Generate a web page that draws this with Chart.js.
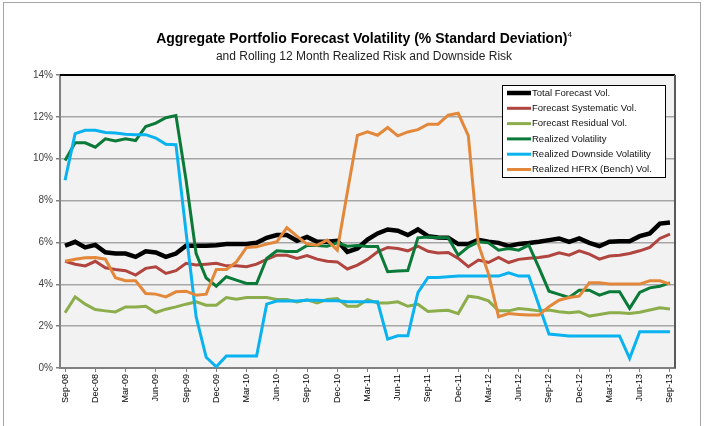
<!DOCTYPE html>
<html>
<head>
<meta charset="utf-8">
<script src="https://cdn.jsdelivr.net/npm/chart.js@4"></script>
<style>
  html, body { margin: 0; padding: 0; background: #fff; }
  #wrap { position: relative; width: 704px; height: 426px; overflow: hidden; }
  #frame { position: absolute; left: 3px; top: 2px; width: 696px; height: 440px; border: 1px solid #a6a6a6; }
  #chart { position: absolute; left: 0; top: 0; }
  .title { position: absolute; left: 0; width: 728px; text-align: center; font-family: "Liberation Sans", Arial, sans-serif; color: #000; white-space: nowrap; }
  #t1 { top: 30px; font-size: 14px; font-weight: bold; }
  #t1 sup { font-size: 8px; font-weight: normal; vertical-align: 6px; }
  #t2 { top: 49px; font-size: 12px; color: #222; }
</style>
</head>
<body>
<div id="wrap">
  <div id="frame"></div>
  <canvas id="chart" width="704" height="426"></canvas>
  <div class="title" id="t1">Aggregate Portfolio Forecast Volatility (% Standard Deviation)<sup>4</sup></div>
  <div class="title" id="t2">and Rolling 12 Month Realized Risk and Downside Risk</div>
</div>
<script>
const months = ["Sep-08","Oct-08","Nov-08","Dec-08","Jan-09","Feb-09","Mar-09","Apr-09","May-09","Jun-09","Jul-09","Aug-09",
  "Sep-09","Oct-09","Nov-09","Dec-09","Jan-10","Feb-10","Mar-10","Apr-10","May-10","Jun-10","Jul-10","Aug-10",
  "Sep-10","Oct-10","Nov-10","Dec-10","Jan-11","Feb-11","Mar-11","Apr-11","May-11","Jun-11","Jul-11","Aug-11",
  "Sep-11","Oct-11","Nov-11","Dec-11","Jan-12","Feb-12","Mar-12","Apr-12","May-12","Jun-12","Jul-12","Aug-12",
  "Sep-12","Oct-12","Nov-12","Dec-12","Jan-13","Feb-13","Mar-13","Apr-13","May-13","Jun-13","Jul-13","Aug-13","Sep-13"];

const totalForecast = [5.84,6.03,5.76,5.88,5.53,5.47,5.47,5.31,5.58,5.52,5.31,5.47,
  5.84,5.84,5.84,5.87,5.92,5.92,5.92,5.98,6.22,6.35,6.35,6.08,
  6.26,6.03,6.03,6.08,5.55,5.71,6.14,6.43,6.62,6.56,6.35,6.62,
  6.3,6.24,6.22,5.92,5.92,6.12,6.03,5.98,5.82,5.93,5.97,6.03,
  6.11,6.19,6.03,6.19,5.98,5.82,6.03,6.06,6.06,6.3,6.43,6.9,6.95];

const systematic = [5.1,4.96,4.88,5.1,4.79,4.71,4.65,4.44,4.76,4.84,4.52,4.65,
  5.0,4.92,4.96,5.0,4.88,4.88,4.84,4.96,5.19,5.39,5.39,5.24,
  5.37,5.2,5.1,5.07,4.73,4.92,5.19,5.55,5.76,5.71,5.6,5.82,
  5.58,5.5,5.52,5.24,4.84,5.16,5.04,5.28,5.04,5.19,5.24,5.28,
  5.35,5.5,5.39,5.6,5.44,5.2,5.35,5.39,5.47,5.6,5.76,6.19,6.4];

const residual = [2.64,3.4,3.05,2.79,2.73,2.68,2.92,2.92,2.95,2.65,2.81,2.92,
  3.05,3.16,3.0,3.0,3.37,3.29,3.37,3.37,3.37,3.27,3.27,3.16,
  3.26,3.11,3.27,3.32,2.95,2.95,3.27,3.11,3.11,3.16,2.95,3.05,
  2.7,2.73,2.76,2.6,3.43,3.37,3.21,2.73,2.73,2.84,2.79,2.73,
  2.77,2.69,2.64,2.69,2.48,2.56,2.64,2.64,2.61,2.66,2.77,2.88,2.82];

const realizedVol = [9.92,10.76,10.76,10.55,10.95,10.85,10.95,10.87,11.54,11.7,11.96,12.06,
  9.0,5.47,4.3,3.91,4.36,4.2,4.04,4.04,5.23,5.6,5.57,5.57,
  5.85,5.85,5.82,5.98,5.82,5.85,5.8,5.8,4.6,4.64,4.66,6.22,
  6.26,6.24,6.22,5.39,5.79,6.03,5.98,5.63,5.71,5.63,5.87,4.8,
  3.67,3.52,3.37,3.72,3.72,3.48,3.64,3.64,2.85,3.61,3.83,3.91,4.07];

const downsideVol = [8.97,11.2,11.36,11.36,11.25,11.23,11.17,11.15,11.15,10.99,10.69,10.67,
  6.5,2.45,0.51,0.06,0.57,0.57,0.57,0.57,3.05,3.2,3.2,3.2,
  3.24,3.24,3.21,3.21,3.16,3.16,3.16,3.16,1.38,1.54,1.54,3.6,
  4.33,4.33,4.36,4.39,4.39,4.39,4.39,4.39,4.55,4.39,4.39,3.0,
  1.62,1.58,1.53,1.53,1.53,1.53,1.53,1.53,0.46,1.73,1.73,1.73,1.73];

const hfrxVol = [5.1,5.2,5.27,5.28,5.2,4.31,4.17,4.17,3.56,3.53,3.4,3.64,
  3.67,3.48,3.53,4.71,4.71,5.07,5.76,5.79,5.92,6.03,6.7,6.3,
  5.92,5.87,6.11,5.63,8.4,11.12,11.28,11.12,11.49,11.09,11.28,11.39,
  11.65,11.65,12.08,12.17,11.1,5.9,4.5,2.45,2.6,2.56,2.53,2.53,
  2.93,3.24,3.37,3.43,4.07,4.07,4.01,4.01,4.01,4.01,4.17,4.17,4.01];

const seriesNames = ["Total Forecast Vol.", "Forecast Systematic Vol.", "Forecast Residual Vol.",
  "Realized Volatility", "Realized Downside Volatility", "Realized HFRX (Bench) Vol."];
const yTicks = [0, 2, 4, 6, 8, 10, 12, 14];

const FONT = "'Liberation Sans', Arial, sans-serif";

function line(label, data, color, width, order) {
  return {
    label: label,
    data: data,
    borderColor: color,
    backgroundColor: color,
    borderWidth: width,
    pointRadius: 0,
    tension: 0,
    fill: false,
    order: order,
  };
}

const plotBox = {
  id: "plotBox",
  beforeDraw(chart) {
    const { ctx, chartArea: a } = chart;
    ctx.save();
    ctx.fillStyle = "#f2f2f2";
    ctx.fillRect(a.left, a.top, a.right - a.left, a.bottom - a.top);
    ctx.restore();
  },
  afterDraw(chart) {
    const { ctx, chartArea: a } = chart;
    ctx.save();
    ctx.strokeStyle = "#000";
    ctx.lineWidth = 2;
    ctx.beginPath();
    ctx.moveTo(a.left, a.top);
    ctx.lineTo(a.right, a.top);
    ctx.stroke();
    ctx.strokeStyle = "#595959";
    ctx.beginPath();
    ctx.moveTo(a.right, a.top);
    ctx.lineTo(a.right, a.bottom);
    ctx.stroke();

    // legend box
    const bx = 502, by = 85, bw = 163, bh = 92;
    ctx.fillStyle = "#fff";
    ctx.fillRect(bx, by, bw, bh);
    ctx.strokeStyle = "#000";
    ctx.lineWidth = 1;
    ctx.strokeRect(bx + 0.5, by + 0.5, bw, bh);
    ctx.font = "9.5px " + FONT;
    ctx.textBaseline = "middle";
    chart.data.datasets.forEach((ds, i) => {
      const y = by + 8 + i * 15.3;
      ctx.strokeStyle = ds.borderColor;
      ctx.lineWidth = ds.borderWidth;
      ctx.beginPath();
      ctx.moveTo(bx + 5, y);
      ctx.lineTo(bx + 29, y);
      ctx.stroke();
      ctx.fillStyle = "#111";
      ctx.fillText(ds.label, bx + 30, y);
    });
    ctx.restore();
  },
};

new Chart(document.getElementById("chart").getContext("2d"), {
  type: "line",
  data: {
    labels: months,
    datasets: [
      line(seriesNames[0], totalForecast, "#000000", 4.5, 5),
      line(seriesNames[1], systematic, "#b0443f", 3, 4),
      line(seriesNames[2], residual, "#8cad4c", 3, 3),
      line(seriesNames[3], realizedVol, "#0b7a38", 3, 2),
      line(seriesNames[4], downsideVol, "#0ab2ef", 3, 1),
      line(seriesNames[5], hfrxVol, "#e3883a", 3, 0),
    ],
  },
  options: {
    responsive: false,
    animation: false,
    layout: { padding: { left: 8, right: 29, top: 75, bottom: 0 } },
    plugins: {
      legend: { display: false },
      title: { display: false },
      tooltip: { enabled: false },
    },
    scales: {
      y: {
        min: 0,
        max: 14,
        afterBuildTicks: (s) => { s.ticks = yTicks.map((v) => ({ value: v })); },
        afterFit: (s) => { s.width = 52; },
        ticks: {
          callback: (v) => v + "%",
          color: "#404040",
          font: { family: FONT, size: 10 },
          padding: 3,
        },
        grid: { color: "#a6a6a6", lineWidth: 1.5, tickLength: 4, tickColor: "#808080" },
        border: { color: "#808080", width: 2 },
      },
      x: {
        offset: true,
        afterFit: (s) => { s.height = 58; },
        ticks: {
          autoSkip: false,
          maxRotation: 90,
          minRotation: 90,
          callback: (v, i) => (i % 3 === 0 ? months[i] : ""),
          color: "#000",
          font: { family: FONT, size: 9 },
          padding: 2,
        },
        grid: {
          drawOnChartArea: false,
          tickLength: 4,
          color: (c) => (c.index % 3 === 0 ? "#808080" : "rgba(0,0,0,0)"),
        },
        border: { color: "#808080", width: 2 },
      },
    },
  },
  plugins: [plotBox],
});
</script>
</body>
</html>
